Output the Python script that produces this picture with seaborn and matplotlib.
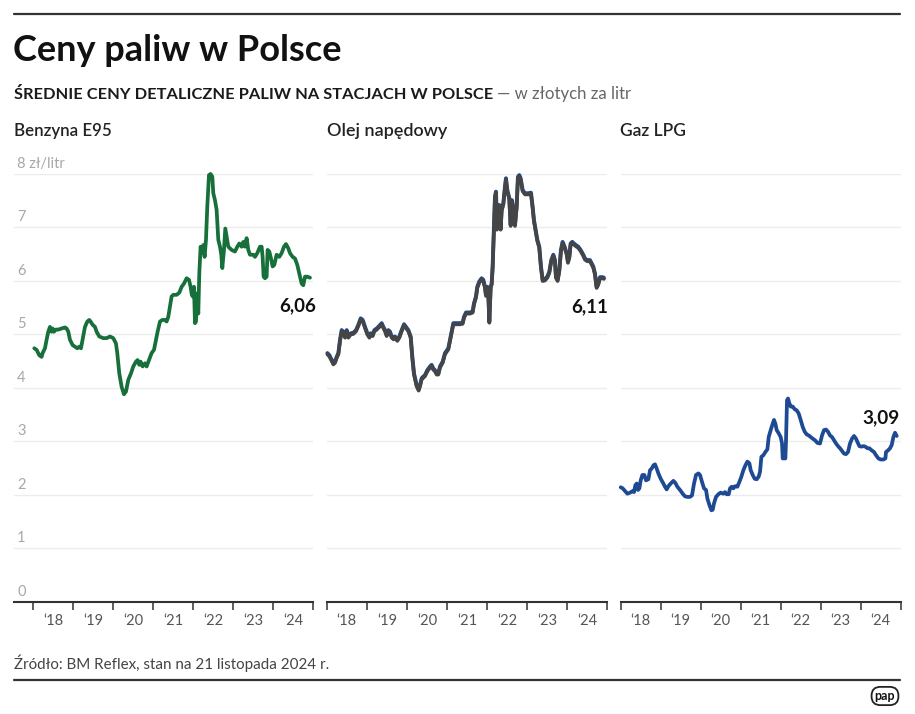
import numpy as np
import pandas as pd
import matplotlib
matplotlib.use("Agg")
import matplotlib.pyplot as plt
import matplotlib.transforms as mtransforms
import seaborn as sns

# ---------------- data (decimal year, price zł/l) ----------------
benz_year = [2018.025, 2018.083, 2018.15, 2018.208, 2018.233, 2018.292, 2018.333, 2018.375, 2018.417, 2018.458,
             2018.483, 2018.517, 2018.567, 2018.625, 2018.708, 2018.792, 2018.833, 2018.875, 2018.917, 2018.983,
             2019.042, 2019.1, 2019.15, 2019.192, 2019.233, 2019.292, 2019.35, 2019.4, 2019.433, 2019.483,
             2019.542, 2019.583, 2019.65, 2019.75, 2019.833, 2019.917, 2020.0, 2020.067, 2020.1, 2020.15,
             2020.208, 2020.267, 2020.317, 2020.375, 2020.442, 2020.5, 2020.567, 2020.608, 2020.65, 2020.683,
             2020.733, 2020.792, 2020.833, 2020.892, 2020.958, 2021.017, 2021.067, 2021.108, 2021.167, 2021.225,
             2021.292, 2021.333, 2021.375, 2021.417, 2021.458, 2021.5, 2021.583, 2021.65, 2021.708, 2021.767,
             2021.833, 2021.892, 2021.933, 2021.958, 2021.983, 2022.017, 2022.042, 2022.067, 2022.1, 2022.125,
             2022.15, 2022.183, 2022.217, 2022.25, 2022.283, 2022.317, 2022.35, 2022.392, 2022.433, 2022.475,
             2022.5, 2022.542, 2022.583, 2022.625, 2022.667, 2022.7, 2022.725, 2022.767, 2022.8, 2022.833,
             2022.875, 2022.958, 2023.042, 2023.1, 2023.15, 2023.208, 2023.25, 2023.292, 2023.333, 2023.375,
             2023.417, 2023.5, 2023.542, 2023.6, 2023.667, 2023.708, 2023.733, 2023.758, 2023.792, 2023.833,
             2023.858, 2023.9, 2023.942, 2023.983, 2024.025, 2024.083, 2024.15, 2024.208, 2024.267, 2024.317,
             2024.375, 2024.417, 2024.483, 2024.542, 2024.6, 2024.65, 2024.708, 2024.75, 2024.792, 2024.85,
             2024.917]
benz_price = [4.74, 4.71, 4.61, 4.58, 4.65, 4.74, 4.90, 5.05, 5.14, 5.05,
              5.11, 5.05, 5.09, 5.09, 5.11, 5.13, 5.11, 5.05, 4.90, 4.80,
              4.77, 4.74, 4.77, 4.74, 4.90, 5.14, 5.24, 5.27, 5.24, 5.18,
              5.14, 5.05, 4.96, 4.93, 4.93, 4.96, 4.93, 4.83, 4.65, 4.27,
              4.02, 3.88, 3.93, 4.15, 4.27, 4.40, 4.49, 4.52, 4.43, 4.49,
              4.40, 4.46, 4.40, 4.52, 4.65, 4.71, 4.90, 5.05, 5.24, 5.27,
              5.27, 5.24, 5.33, 5.52, 5.71, 5.74, 5.74, 5.78, 5.89, 5.95,
              6.05, 6.02, 5.89, 5.76, 5.71, 5.89, 5.21, 5.24, 5.77, 5.39,
              6.14, 6.64, 6.52, 6.67, 6.45, 6.77, 7.39, 7.98, 8.00, 7.95,
              7.64, 7.51, 7.33, 6.77, 6.64, 6.49, 6.24, 6.58, 6.98, 6.83,
              6.64, 6.58, 6.55, 6.64, 6.70, 6.64, 6.73, 6.64, 6.80, 6.58,
              6.49, 6.49, 6.45, 6.52, 6.64, 6.64, 6.45, 6.08, 6.05, 6.08,
              6.58, 6.55, 6.42, 6.27, 6.30, 6.49, 6.45, 6.52, 6.64, 6.69,
              6.61, 6.52, 6.45, 6.42, 6.30, 6.14, 5.95, 5.92, 6.08, 6.08,
              6.06]

on_year = [2018.017, 2018.067, 2018.125, 2018.166, 2018.208, 2018.249, 2018.291, 2018.333, 2018.374, 2018.416,
           2018.457, 2018.499, 2018.54, 2018.599, 2018.665, 2018.732, 2018.79, 2018.848, 2018.898, 2018.956,
           2019.014, 2019.064, 2019.097, 2019.147, 2019.189, 2019.247, 2019.313, 2019.372, 2019.413, 2019.455,
           2019.496, 2019.538, 2019.579, 2019.621, 2019.663, 2019.704, 2019.762, 2019.812, 2019.87, 2019.929,
           2019.978, 2020.037, 2020.095, 2020.136, 2020.178, 2020.244, 2020.294, 2020.328, 2020.369, 2020.452,
           2020.51, 2020.577, 2020.618, 2020.66, 2020.702, 2020.743, 2020.785, 2020.826, 2020.893, 2020.951,
           2021.034, 2021.076, 2021.126, 2021.159, 2021.242, 2021.325, 2021.392, 2021.425, 2021.475, 2021.574,
           2021.641, 2021.674, 2021.724, 2021.757, 2021.807, 2021.865, 2021.907, 2021.948, 2021.973, 2022.007,
           2022.032, 2022.057, 2022.09, 2022.115, 2022.14, 2022.173, 2022.198, 2022.223, 2022.248, 2022.273,
           2022.306, 2022.339, 2022.364, 2022.406, 2022.447, 2022.472, 2022.505, 2022.555, 2022.589, 2022.622,
           2022.655, 2022.697, 2022.738, 2022.771, 2022.805, 2022.838, 2022.888, 2022.946, 2023.029, 2023.096,
           2023.137, 2023.17, 2023.212, 2023.254, 2023.303, 2023.345, 2023.387, 2023.445, 2023.503, 2023.553,
           2023.603, 2023.653, 2023.694, 2023.719, 2023.761, 2023.802, 2023.844, 2023.885, 2023.935, 2023.985,
           2024.018, 2024.052, 2024.085, 2024.126, 2024.168, 2024.218, 2024.276, 2024.334, 2024.401, 2024.442,
           2024.5, 2024.567, 2024.608, 2024.65, 2024.692, 2024.733, 2024.775, 2024.816, 2024.883, 2024.916]
on_price = [4.65, 4.61, 4.52, 4.46, 4.49, 4.58, 4.65, 4.90, 5.08, 5.05,
            4.96, 5.08, 4.96, 5.02, 5.03, 5.08, 5.18, 5.30, 5.27, 5.14,
            5.02, 4.96, 5.02, 4.99, 5.08, 5.11, 5.16, 5.21, 5.14, 5.08,
            4.99, 5.08, 5.05, 4.96, 4.93, 4.96, 4.90, 4.96, 5.08, 5.19,
            5.14, 5.08, 4.96, 4.58, 4.27, 4.05, 3.97, 4.05, 4.18, 4.24,
            4.33, 4.40, 4.43, 4.36, 4.33, 4.27, 4.27, 4.40, 4.49, 4.65,
            4.74, 4.90, 5.08, 5.21, 5.21, 5.21, 5.22, 5.33, 5.41, 5.41,
            5.43, 5.58, 5.71, 5.89, 5.99, 6.05, 6.02, 5.89, 5.74, 5.89,
            5.77, 5.24, 5.89, 5.95, 6.27, 7.01, 7.58, 7.67, 6.98, 7.20,
            7.42, 6.98, 7.33, 7.45, 7.76, 7.92, 7.70, 7.55, 7.05, 7.51,
            7.33, 7.05, 7.39, 7.95, 7.98, 7.92, 7.70, 7.64, 7.64, 7.65,
            7.39, 7.14, 6.95, 6.77, 6.64, 6.27, 6.02, 6.03, 6.08, 6.17,
            6.39, 6.49, 6.39, 6.08, 6.02, 6.20, 6.58, 6.73, 6.64, 6.52,
            6.36, 6.45, 6.70, 6.73, 6.70, 6.67, 6.64, 6.58, 6.49, 6.42,
            6.39, 6.39, 6.33, 6.27, 6.14, 5.89, 5.95, 6.07, 6.07, 6.06]

lpg_year = [2018.0, 2018.05, 2018.108, 2018.167, 2018.233, 2018.3, 2018.333, 2018.367, 2018.4, 2018.433,
            2018.467, 2018.5, 2018.542, 2018.592, 2018.633, 2018.692, 2018.733, 2018.775, 2018.817, 2018.858,
            2018.9, 2018.942, 2019.0, 2019.067, 2019.108, 2019.15, 2019.192, 2019.25, 2019.317, 2019.367,
            2019.417, 2019.483, 2019.55, 2019.608, 2019.667, 2019.733, 2019.783, 2019.833, 2019.883, 2019.942,
            2019.983, 2020.033, 2020.083, 2020.133, 2020.167, 2020.217, 2020.267, 2020.3, 2020.333, 2020.383,
            2020.442, 2020.5, 2020.567, 2020.608, 2020.65, 2020.7, 2020.733, 2020.775, 2020.817, 2020.858,
            2020.917, 2020.967, 2021.017, 2021.067, 2021.117, 2021.167, 2021.217, 2021.25, 2021.3, 2021.35,
            2021.4, 2021.45, 2021.483, 2021.517, 2021.567, 2021.617, 2021.667, 2021.7, 2021.75, 2021.8,
            2021.833, 2021.867, 2021.9, 2021.95, 2022.0, 2022.033, 2022.05, 2022.083, 2022.117, 2022.133,
            2022.158, 2022.183, 2022.217, 2022.25, 2022.3, 2022.35, 2022.4, 2022.45, 2022.5, 2022.55,
            2022.6, 2022.65, 2022.7, 2022.75, 2022.8, 2022.858, 2022.917, 2022.983, 2023.033, 2023.083,
            2023.133, 2023.183, 2023.233, 2023.283, 2023.333, 2023.383, 2023.433, 2023.483, 2023.533, 2023.583,
            2023.633, 2023.683, 2023.733, 2023.783, 2023.833, 2023.883, 2023.917, 2023.967, 2024.017, 2024.067,
            2024.117, 2024.167, 2024.217, 2024.275, 2024.333, 2024.383, 2024.442, 2024.5, 2024.567, 2024.617,
            2024.633, 2024.683, 2024.733, 2024.775, 2024.817, 2024.858, 2024.9]
lpg_price = [2.14, 2.12, 2.07, 2.02, 2.04, 2.07, 2.05, 2.18, 2.21, 2.09,
             2.12, 2.27, 2.37, 2.37, 2.27, 2.29, 2.46, 2.49, 2.55, 2.57,
             2.49, 2.40, 2.30, 2.21, 2.15, 2.10, 2.16, 2.21, 2.26, 2.22,
             2.15, 2.09, 2.02, 1.97, 1.96, 1.96, 1.99, 2.21, 2.37, 2.40,
             2.37, 2.24, 2.12, 2.09, 1.93, 1.81, 1.71, 1.72, 1.84, 1.96,
             2.01, 2.04, 2.02, 2.05, 2.01, 2.01, 2.12, 2.15, 2.12, 2.16,
             2.15, 2.24, 2.34, 2.46, 2.55, 2.62, 2.59, 2.46, 2.37, 2.30,
             2.29, 2.34, 2.43, 2.71, 2.74, 2.80, 2.85, 3.08, 3.21, 3.33,
             3.40, 3.33, 3.21, 3.15, 3.08, 2.96, 2.68, 2.68, 2.68, 3.02,
             3.77, 3.80, 3.71, 3.65, 3.65, 3.60, 3.58, 3.52, 3.40, 3.27,
             3.18, 3.13, 3.11, 3.08, 3.05, 3.02, 2.97, 2.96, 3.11, 3.21,
             3.22, 3.18, 3.11, 3.08, 3.02, 2.96, 2.91, 2.87, 2.82, 2.77,
             2.76, 2.80, 2.96, 3.05, 3.10, 3.05, 2.99, 2.91, 2.90, 2.91,
             2.90, 2.87, 2.87, 2.83, 2.80, 2.74, 2.68, 2.66, 2.66, 2.68,
             2.80, 2.83, 2.87, 2.93, 3.08, 3.16, 3.10]

panel_titles = ["Benzyna E95", "Olej napędowy", "Gaz LPG"]
end_labels = ["6,06", "6,11", "3,09"]
year_ticks = [2018, 2019, 2020, 2021, 2022, 2023, 2024, 2025]
year_labels = ["\u201818", "\u201819", "\u201820", "\u201821", "\u201822", "\u201823", "\u201824"]
y_values = [0, 1, 2, 3, 4, 5, 6, 7, 8]
y_labels = ["0", "1", "2", "3", "4", "5", "6", "7", "8 zł/litr"]

# ---------------- style ----------------
sns.set_theme(style="white")
plt.rcParams["font.family"] = ["Lato", "DejaVu Sans"]

W, H = 915, 714
fig = plt.figure(figsize=(W / 100, H / 100), dpi=100)
renderer = fig.canvas.get_renderer()


def fx(px):
    return px / W


def fy(py):
    return 1 - py / H


def fit_width(t, w):
    bb = t.get_window_extent(renderer)
    t.set_fontsize(t.get_fontsize() * w / bb.width)
    return t


# rules
fig.add_artist(plt.Line2D([fx(14), fx(900)], [fy(14), fy(14)], color="#333333", lw=1.6))
fig.add_artist(plt.Line2D([fx(14), fx(900)], [fy(680), fy(680)], color="#333333", lw=1.6))

# header texts
t = fig.text(fx(13), fy(61), "Ceny paliw w Polsce", fontsize=27, fontweight="bold",
             color="#111111", va="baseline", ha="left")
fit_width(t, 329)
t = fig.text(fx(14), fy(99), "ŚREDNIE CENY DETALICZNE PALIW NA STACJACH W POLSCE", fontsize=12,
             fontweight="bold", color="#1a1a1a", va="baseline", ha="left")
fit_width(t, 476)
bb = t.get_window_extent(renderer)
t2 = fig.text((bb.x1 + 4) / W, fy(99), "— w złotych za litr", fontsize=11, color="#666666",
              va="baseline", ha="left")
fit_width(t2, 134)

# source
t = fig.text(fx(14), fy(669), "Źródło: BM Reflex, stan na 21 listopada 2024 r.", fontsize=11,
             color="#444444", va="baseline", ha="left")
fit_width(t, 314)

# pap logo
fig.text(fx(885), fy(696), "pap", fontsize=9, fontweight="bold", color="#111111",
         ha="center", va="center",
         bbox=dict(boxstyle="round,pad=0.25,rounding_size=0.7", fc="white", ec="#222222", lw=1.3))

# ---------------- panels ----------------
bottom_px, top_px = 601.7, 174.0
panels = [
    dict(left=14.0, right=313.3, xlim=(2017.518, 2025.0), year=benz_year, price=benz_price,
         color="#17703a", title_x=14, lab_off=(6, -28)),
    dict(left=326.7, right=607.3, xlim=(2018.0, 2025.0), year=on_year, price=on_price,
         color="#444444", title_x=327, lab_off=(4, -29)),
    dict(left=620.7, right=900.7, xlim=(2018.0, 2025.0), year=lpg_year, price=lpg_price,
         color="#1d4a93", title_x=620, lab_off=(3, 18)),
]
title_widths = [98, 121, 66]

for i, p in enumerate(panels):
    ax = fig.add_axes([fx(p["left"]), fy(bottom_px), (p["right"] - p["left"]) / W,
                       (bottom_px - top_px) / H])
    ax.set_facecolor("none")
    df = pd.DataFrame({"rok": p["year"], "cena": p["price"]})
    if i == 1:
        sns.lineplot(data=df, x="rok", y="cena", ax=ax, color="#1d4a93", lw=2.8,
                     estimator=None, sort=False, zorder=3)
        sns.lineplot(data=df, x="rok", y="cena", ax=ax, color="#454545", lw=2.6,
                     estimator=None, sort=False, zorder=4)
        ln = ax.lines[-1]
        ln.set_transform(ax.transData + mtransforms.ScaledTranslation(0, -1.2 / 100, fig.dpi_scale_trans))
    else:
        sns.lineplot(data=df, x="rok", y="cena", ax=ax, color=p["color"], lw=2.7,
                     estimator=None, sort=False, zorder=3)
    for ln in ax.lines:
        ln.set_clip_on(False)
        ln.set_solid_joinstyle("round")
        ln.set_solid_capstyle("round")

    ax.set_xlim(*p["xlim"])
    ax.set_ylim(0, 8)
    ax.set_xlabel("")
    ax.set_ylabel("")

    # grid
    ax.set_yticks(y_values[1:])
    ax.yaxis.grid(True, color="#ececec", lw=1.0, zorder=0)
    ax.tick_params(axis="y", length=0, labelleft=False)
    ax.set_axisbelow(True)

    # x axis
    ax.set_xticks(year_ticks)
    ax.set_xticklabels([""] * len(year_ticks))
    ax.set_xticks([y + 0.5 for y in year_ticks[:-1]], minor=True)
    ax.set_xticklabels(year_labels, minor=True)
    ax.tick_params(axis="x", which="major", direction="out", length=6, width=1.1, color="#333333",
                   bottom=True)
    ax.tick_params(axis="x", which="minor", length=0, pad=9, labelsize=10.5, labelcolor="#555555",
                   bottom=True)

    for s in ["top", "right", "left"]:
        ax.spines[s].set_visible(False)
    ax.spines["bottom"].set_color("#333333")
    ax.spines["bottom"].set_linewidth(1.5)

    # y labels (first panel only)
    if i == 0:
        blend = mtransforms.blended_transform_factory(ax.transAxes, ax.transData)
        for v, lab in zip(y_values, y_labels):
            ax.annotate(lab, xy=(0, v), xycoords=blend, xytext=(3, 3), textcoords="offset pixels",
                        ha="left", va="bottom", fontsize=10.5, color="#a8a8a8")

    # end label
    lab = ax.annotate(end_labels[i], xy=(p["year"][-1], p["price"][-1]), xycoords="data",
                      xytext=p["lab_off"], textcoords="offset pixels", ha="right", va="center",
                      fontsize=13.5, fontweight="bold", color="#111111", annotation_clip=False)
    fit_width(lab, 37)

    # panel title
    t = fig.text(fx(p["title_x"]), fy(136), panel_titles[i], fontsize=11.5, fontweight="semibold",
                 color="#222222", va="baseline", ha="left")
    fit_width(t, title_widths[i])

fig.savefig("out.png", dpi=100)
